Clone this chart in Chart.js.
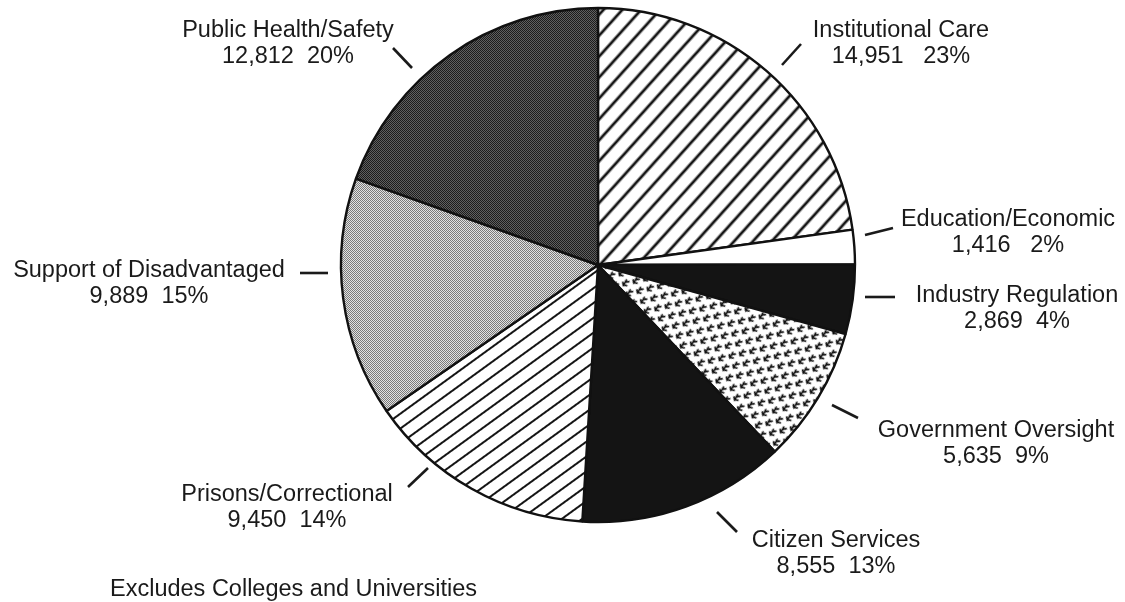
<!DOCTYPE html>
<html>
<head>
<meta charset="utf-8">
<script src="https://cdn.jsdelivr.net/npm/chart.js@4/dist/chart.umd.min.js"></script>
<style>
  html, body { margin: 0; padding: 0; background: #ffffff; }
  #wrap { width: 1125px; height: 602px; position: relative; }
  canvas { display: block; }
</style>
</head>
<body>
<div id="wrap"><canvas id="c" width="1125" height="602"></canvas></div>
<script>
// ---- data (clockwise from 12 o'clock) ----
const categories = [
  "Institutional Care",
  "Education/Economic",
  "Industry Regulation",
  "Government Oversight",
  "Citizen Services",
  "Prisons/Correctional",
  "Support of Disadvantaged",
  "Public Health/Safety"
];
const values = [14951, 1416, 2869, 5635, 8555, 9450, 9889, 12812];
const valueGaps = ["   ", "   ", "  ", "  ", "  ", "  ", "  ", "  "];
const footnote = "Excludes Colleges and Universities";

// ---- label layout: offsets from the pie centre (leader inner, leader outer, text centre x, first baseline y) ----
const labelLayout = [
  { li: [184, -200], lo: [203, -221], t: [303, -228] },
  { li: [267, -30],  lo: [295, -37],  t: [410, -39] },
  { li: [267, 32],   lo: [297, 32],   t: [419, 37] },
  { li: [234, 140],  lo: [260, 153],  t: [398, 172] },
  { li: [119, 247],  lo: [139, 267],  t: [238, 282] },
  { li: [-170, 203], lo: [-190, 222], t: [-311, 236] },
  { li: [-270, 8],   lo: [-298, 8],   t: [-449, 12] },
  { li: [-186, -197],lo: [-205, -217],t: [-310, -228] }
];

// ---- pattern helpers ----
function makeTile(w, h, draw) {
  const c = document.createElement('canvas');
  c.width = w; c.height = h;
  const g = c.getContext('2d');
  draw(g, w, h);
  return c;
}
const ctxMain = document.getElementById('c').getContext('2d');

function hatchPattern(period, lineW, angleDeg) {
  const tile = makeTile(32, period, (g, w, h) => {
    g.fillStyle = '#ffffff'; g.fillRect(0, 0, w, h);
    g.fillStyle = '#151515'; g.fillRect(0, (h - lineW) / 2, w, lineW);
  });
  const p = ctxMain.createPattern(tile, 'repeat');
  p.setTransform(new DOMMatrix().rotateSelf(-angleDeg));
  return p;
}
function stipplePattern(dark, light) {
  const tile = makeTile(2, 2, (g) => {
    g.fillStyle = light; g.fillRect(0, 0, 2, 2);
    g.fillStyle = dark; g.fillRect(0, 0, 1, 1); g.fillRect(1, 1, 1, 1);
  });
  return ctxMain.createPattern(tile, 'repeat');
}
function glyphPattern() {
  const tile = makeTile(16, 14, (g, w, h) => {
    g.fillStyle = '#ffffff'; g.fillRect(0, 0, w, h);
    g.strokeStyle = '#111'; g.lineWidth = 1.7; g.lineCap = 'round'; g.lineJoin = 'round';
    const glyph = (x, y) => {
      g.beginPath();
      g.moveTo(x + 0.5, y + 5); g.lineTo(x + 2.5, y + 7.5); g.lineTo(x + 2.5, y + 1);
      g.moveTo(x + 2.5, y + 3.5); g.lineTo(x + 5.5, y + 1.5);
      g.moveTo(x + 2.5, y + 7); g.lineTo(x + 5.5, y + 6);
      g.stroke();
    };
    glyph(2, 1);
    glyph(10, 8);
    glyph(-6, 8);
    glyph(10, -6);
    glyph(-6, -6);
  });
  const p = ctxMain.createPattern(tile, 'repeat');
  p.setTransform(new DOMMatrix().rotateSelf(28));
  return p;
}

const fills = [
  hatchPattern(14, 2.8, 48),            // Institutional Care
  '#ffffff',                            // Education/Economic
  '#141414',                            // Industry Regulation
  glyphPattern(),                       // Government Oversight
  '#141414',                            // Citizen Services
  hatchPattern(12, 2.0, 36),            // Prisons/Correctional
  stipplePattern('#7a7a7a', '#e2e2e2'), // Support of Disadvantaged
  stipplePattern('#1c1c1c', '#606060')  // Public Health/Safety
];

const total = values.reduce((a, b) => a + b, 0);
const fmt = (v) => v.toLocaleString('en-US');

const labelPlugin = {
  id: 'pieLabels',
  afterDraw(chart) {
    const meta = chart.getDatasetMeta(0);
    const arc0 = meta.data[0];
    const cx = arc0.x, cy = arc0.y;
    const ctx = chart.ctx;
    ctx.save();
    ctx.font = '23.5px "Liberation Sans", Arial, sans-serif';
    ctx.fillStyle = '#1a1a1a';
    ctx.strokeStyle = '#1a1a1a';
    ctx.lineWidth = 2.6;
    ctx.textAlign = 'center';
    ctx.textBaseline = 'alphabetic';
    categories.forEach((name, i) => {
      const L = labelLayout[i];
      ctx.beginPath();
      ctx.moveTo(cx + L.li[0], cy + L.li[1]);
      ctx.lineTo(cx + L.lo[0], cy + L.lo[1]);
      ctx.stroke();
      const pct = Math.round(values[i] / total * 100);
      const tx = cx + L.t[0], ty = cy + L.t[1];
      ctx.fillText(name, tx, ty);
      ctx.fillText(fmt(values[i]) + valueGaps[i] + pct + '%', tx, ty + 26);
    });
    ctx.textAlign = 'left';
    ctx.fillText(footnote, 110, 596);
    ctx.restore();
  }
};

new Chart(document.getElementById('c'), {
  type: 'pie',
  data: {
    labels: categories,
    datasets: [{
      data: values,
      backgroundColor: fills,
      borderColor: '#111111',
      borderWidth: 2.4
    }]
  },
  options: {
    responsive: false,
    animation: false,
    radius: 257,
    layout: { padding: { left: 341, right: 270, top: 8, bottom: 80 } },
    plugins: { legend: { display: false }, tooltip: { enabled: false } }
  },
  plugins: [labelPlugin]
});
</script>
</body>
</html>
